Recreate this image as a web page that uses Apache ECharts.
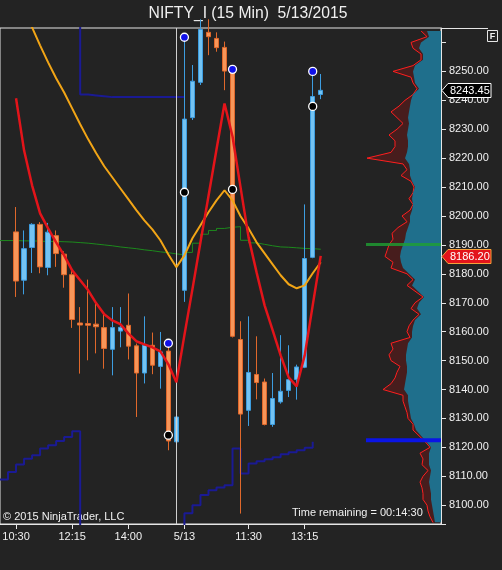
<!DOCTYPE html>
<html><head><meta charset="utf-8">
<script src="https://cdn.jsdelivr.net/npm/echarts@6.0.0/dist/echarts.min.js"></script>
<style>html,body{margin:0;padding:0;background:#232323;}#c{width:502px;height:570px;}</style>
</head><body><div id="c"></div>
<script>
// ---------- categories (15-minute bars) ----------
const categories = [
 '5/12 10:00','5/12 10:15','5/12 10:30','5/12 10:45','5/12 11:00','5/12 11:15','5/12 11:30','5/12 11:45','5/12 12:00','5/12 12:15','5/12 12:30','5/12 12:45','5/12 13:00','5/12 13:15','5/12 13:30','5/12 13:45','5/12 14:00','5/12 14:15','5/12 14:30','5/12 14:45','5/12 15:00','5/12 15:15','5/12 15:30',
 '5/13 09:30','5/13 09:45','5/13 10:00','5/13 10:15','5/13 10:30','5/13 10:45','5/13 11:00','5/13 11:15','5/13 11:30','5/13 11:45','5/13 12:00','5/13 12:15','5/13 12:30','5/13 12:45','5/13 13:00','5/13 13:15','5/13 13:30','5/13 13:45',
 '5/13 14:00','5/13 14:15','5/13 14:30','5/13 14:45','5/13 15:00','5/13 15:15','5/13 15:30',
 '5/14 09:30','5/14 09:45','5/14 10:00','5/14 10:15','5/14 10:30','5/14 10:45','5/14 11:00','5/14 11:15'];
const tickCategories = ['5/12 10:30','5/12 12:15','5/12 14:00','5/13 09:30','5/13 11:30','5/13 13:15'];
const tickLabels = ['10:30','12:15','14:00','5/13','11:30','13:15'];
const sessionBreak = '5/12 15:30';

// ---------- OHLC (5/12 10:30 .. 5/13 13:45) ----------
const barTimes = categories.slice(2, 41);
const open  = [8194.5,8177.8,8189.1,8197.1,8182.2,8193.2,8186.8,8179.7,8163.0,8162.8,8162.6,8161.4,8153.9,8160.2,8162.2,8155.1,8145.7,8155.3,8148.0,8153.3,8121.9,8174.3,8234.0,8246.2,8263.5,8261.4,8258.3,8249.9,8157.3,8132.8,8145.2,8142.6,8127.9,8135.7,8139.7,8143.5,8147.7,8185.7,8242.0];
const high  = [8203.1,8195.0,8197.5,8197.9,8197.6,8195.0,8187.8,8181.2,8168.5,8178.0,8170.3,8166.8,8168.5,8168.5,8173.2,8155.9,8165.3,8159.7,8159.9,8155.0,8142.5,8260.7,8252.2,8268.0,8268.0,8263.5,8260.3,8250.3,8163.6,8165.3,8158.4,8143.8,8145.7,8158.8,8155.3,8148.6,8204.0,8249.7,8249.1];
const low   = [8172.0,8172.9,8180.3,8180.2,8179.5,8182.4,8175.2,8161.3,8145.5,8150.1,8152.5,8147.2,8144.9,8154.6,8150.4,8130.5,8142.1,8145.3,8140.3,8119.0,8120.1,8170.3,8233.2,8245.3,8255.6,8256.8,8243.5,8158.0,8097.1,8127.4,8136.6,8127.6,8127.1,8135.1,8137.4,8136.5,8147.4,8185.4,8240.4];
const close = [8177.5,8188.7,8197.1,8182.4,8194.4,8187.0,8179.7,8164.2,8162.3,8162.2,8161.7,8154.2,8161.4,8161.5,8155.0,8145.7,8155.3,8148.4,8153.0,8122.2,8130.5,8233.5,8246.6,8264.5,8262.0,8258.2,8250.1,8158.4,8131.5,8145.9,8142.4,8127.9,8136.9,8139.4,8143.4,8147.8,8185.3,8241.3,8243.45];

// ---------- indicators ----------
const redLine = [8240.7,8222.7,8210.6,8200.9,8195.7,8190.9,8186.4,8181.2,8177.8,8174.3,8169.8,8166.0,8163.9,8162.6,8159.4,8156.7,8155.6,8154.6,8153.2,8148.7,8142.5,8158.8,8174.7,8190.9,8206.8,8223.0,8238.9,8227.5,8209.9,8192.6,8180.5,8169.1,8160.5,8151.8,8144.2,8141.1,8151.8,8169.1,8186.2];
const orangeLine = [8277.3,8271.1,8265.2,8259.0,8253.1,8247.6,8242.7,8237.2,8231.7,8226.5,8221.7,8217.2,8213.4,8209.6,8205.8,8202.0,8198.5,8195.4,8191.6,8186.7,8182.3,8186.4,8192.3,8196.8,8201.3,8205.4,8208.9,8205.4,8199.9,8195.7,8190.9,8187.1,8183.3,8179.5,8176.4,8175.0,8176.0,8180.2,8184.0];
// from 5/12 10:00
const greenStep = [8191.5,8191.5,8191.4,8191.4,8191.3,8191.2,8191.2,8191.1,8191.0,8190.8,8190.6,8190.3,8190.0,8189.7,8189.3,8189.0,8188.7,8188.3,8188.0,8187.6,8187.3,8186.9,8186.6,8187.4,8190.6,8193.7,8195.0,8195.7,8196.1,8196.3,8191.6,8190.7,8190.2,8189.7,8189.3,8189.2,8189.0,8188.8,8188.7,8188.5,8188.5];
// from 5/12 10:00 (7900 = off the chart)
const navyLower = [8108.9,8111.5,8114.1,8116.1,8117.3,8119.6,8120.7,8122.2,8123.6,8125.6,7900,7900,7900,7900,7900,7900,7900,7900,7900,7900,7900,7900,7900,8097.2,8100.0,8103.5,8105.2,8106.1,8106.9,8119.6,8111.0,8114.4,8115.2,8115.9,8116.6,8117.6,8118.3,8119.0,8119.9,8121.9];
// from 5/12 12:15 (8400 = off the chart)
const navyUpper = [8400,8242.0,8241.7,8241.4,8241.1,8241.1,8241.1,8241.1,8241.1,8241.1,8241.1,8241.1,8241.1,8241.1,8241.1];
const dotTimes = ['5/12 15:15','5/13 09:30','5/13 11:00','5/13 13:30'];
const highDots = [8156.0,8261.8,8250.7,8250.0];
const lowDots  = [8124.2,8208.2,8209.2,8237.9];

// ---------- volume profile (levels 8094..8264 step 2, relative widths) ----------
const profileLow = 8094, profileStep = 2;
const redProfile = [8,11,13,14,18,18,19,21,18,13, 19,18,21,11,16,22,28,28,33,34, 36,38,38,58,50,46,44,41,50,52, 48,50,31,34,32,28,22,30,26,18, 26,34,28,34,50,48,56,54,52,48, 49,43,34,39,31,28,32,28,27,30, 40,34,38,74,50,46,46,52,44,38, 44,50,42,36,28,24,28,30,48,28, 20,20,28,30,14,20];
const tealProfile = [6,7,8,9,10,10,11,12,11,10, 12,12,12,10,15,20,25,27,30,31, 32,33,33,37,36,35,34,34,35,35, 34,33,29,29,28,26,20,24,22,17, 23,29,26,32,38,40,41,40,38,36, 35,33,31,31,29,28,29,28,26,29, 31,31,32,36,34,33,33,34,33,32, 33,32,31,30,28,22,26,27,28,26, 18,18,22,20,12,14];
const pocPrice = 8190.1, lowLevelPrice = 8122.5, levelWidth = 75;
const lastPrice = 8243.45, redLast = 8186.20;

// ---------- layout ----------
const Y_MIN = 8093.5, Y_MAX = 8265;
const G = {left: 0, top: 28, width: 441, height: 496};
const profileLevels = redProfile.map((_, i) => String(profileLow + i * profileStep));
const profileTopPrice = profileLow + (redProfile.length - 1) * profileStep;
const pxPerPt = G.height / (Y_MAX - Y_MIN);
const G2 = {left: G.left, width: G.width,
  top: G.top + (Y_MAX - profileTopPrice) * pxPerPt,
  height: (profileTopPrice - profileLow) * pxPerPt};

const FONT = '"Liberation Sans", Arial, sans-serif';
const TXT = '#f0f0f0', LINE = '#e6e6e6';

const chart = echarts.init(document.getElementById('c'), null, {renderer: 'canvas'});
const option = {
  animation: false,
  backgroundColor: '#232323',
  grid: [
    Object.assign({show: true, borderColor: LINE, borderWidth: 1, backgroundColor: 'transparent', outerBoundsMode: 'none'}, G),
    Object.assign({show: false, outerBoundsMode: 'none'}, G2)
  ],
  xAxis: [
    {type: 'category', gridIndex: 0, data: categories, boundaryGap: false,
     axisLine: {show: true, lineStyle: {color: LINE}},
     axisTick: {show: true, length: 5, lineStyle: {color: LINE}, interval: (i, v) => tickCategories.includes(v)},
     axisLabel: {color: TXT, fontSize: 11, fontFamily: FONT, margin: 7, hideOverlap: false,
       interval: (i, v) => tickCategories.includes(v),
       formatter: v => { const j = tickCategories.indexOf(v); return j >= 0 ? tickLabels[j] : ''; }},
     splitLine: {show: false}},
    {type: 'value', gridIndex: 0, inverse: true, min: 0, max: G.width, show: false},
    {type: 'value', gridIndex: 1, inverse: true, min: 0, max: G.width, show: false}
  ],
  yAxis: [
    {type: 'value', gridIndex: 0, position: 'right', min: Y_MIN, max: Y_MAX, scale: true,
     splitNumber: 17, minInterval: 10, maxInterval: 10,
     axisLine: {show: true, lineStyle: {color: LINE}},
     axisTick: {show: true, length: 5, lineStyle: {color: LINE}},
     axisLabel: {color: TXT, fontSize: 11, fontFamily: FONT, margin: 8, hideOverlap: false,
       formatter: v => (Math.abs(v % 10) < 1e-6 && v !== 8260) ? v.toFixed(2) : ''},
     splitLine: {show: false}},
    {type: 'category', gridIndex: 1, data: profileLevels, boundaryGap: false, show: false}
  ],
  series: [
    {name: 'profileRed', type: 'line', xAxisIndex: 2, yAxisIndex: 1, data: redProfile,
     showSymbol: false, z: 1, lineStyle: {color: '#ff1f1f', width: 1},
     areaStyle: {color: 'rgba(140,20,20,0.5)'}},
    {name: 'profileTeal', type: 'line', xAxisIndex: 2, yAxisIndex: 1, data: tealProfile,
     showSymbol: false, z: 2, lineStyle: {width: 0, color: '#1f6f8c'},
     areaStyle: {color: '#1f6f8c', opacity: 1}},
    {name: 'poc', type: 'line', xAxisIndex: 1, yAxisIndex: 0, z: 3, showSymbol: false,
     data: [[levelWidth, pocPrice], [0, pocPrice]], lineStyle: {color: 'rgba(30,160,50,0.8)', width: 3}},
    {name: 'lowLevel', type: 'line', xAxisIndex: 1, yAxisIndex: 0, z: 3, showSymbol: false,
     data: [[levelWidth, lowLevelPrice], [0, lowLevelPrice]], lineStyle: {color: '#0a14e6', width: 4}},
    {name: 'green', type: 'line', step: 'end', z: 3, showSymbol: false,
     data: greenStep.map((v, i) => [categories[i], v]), lineStyle: {color: '#1d8a1d', width: 1},
     markLine: {silent: true, symbol: 'none', label: {show: false},
       lineStyle: {color: '#cfcfcf', width: 1, type: 'solid'}, data: [{xAxis: sessionBreak}]}},
    {name: 'navyLower', type: 'line', step: 'end', z: 3, showSymbol: false,
     data: navyLower.map((v, i) => [categories[i], v]), lineStyle: {color: '#1a1a94', width: 2}},
    {name: 'navyUpper', type: 'line', step: 'end', z: 3, showSymbol: false,
     data: navyUpper.map((v, i) => [categories[9 + i], v]), lineStyle: {color: '#1a1a94', width: 2}},
    {name: 'price', type: 'candlestick', z: 4, barWidth: 5,
     data: barTimes.map((t, i) => [t, open[i], close[i], low[i], high[i]]),
     encode: {x: 0, y: [1, 2, 3, 4]},
     itemStyle: {color: '#74c3f2', color0: '#f79659', borderColor: '#3d9de0', borderColor0: '#e0682b', borderWidth: 1}},
    {name: 'orange', type: 'line', z: 5, showSymbol: false,
     data: orangeLine.map((v, i) => [barTimes[i], v]), lineStyle: {color: '#f2a516', width: 2}},
    {name: 'red', type: 'line', z: 6, showSymbol: false,
     data: redLine.map((v, i) => [barTimes[i], v]), lineStyle: {color: '#e3141a', width: 2.5}},
    {name: 'highDots', type: 'scatter', z: 7, symbolSize: 8,
     data: highDots.map((v, i) => [dotTimes[i], v]),
     itemStyle: {color: '#1010e8', borderColor: '#ffffff', borderWidth: 1.3, opacity: 1}},
    {name: 'lowDots', type: 'scatter', z: 7, symbolSize: 8,
     data: lowDots.map((v, i) => [dotTimes[i], v]),
     itemStyle: {color: '#000000', borderColor: '#ffffff', borderWidth: 1.3, opacity: 1}}
  ]
};
chart.setOption(option);

function marker(value, text, fill, stroke, color) {
  const y = Math.round(chart.convertToPixel({yAxisIndex: 0}, value)) + 0.5;
  const x0 = G.left + G.width + 1;
  return [
    {type: 'polygon', z: 100, shape: {points: [[x0, y], [x0 + 6, y - 7], [x0 + 49, y - 7], [x0 + 49, y + 7], [x0 + 6, y + 7]]},
     style: {fill: fill, stroke: stroke, lineWidth: 1}},
    {type: 'text', z: 101, x: x0 + 8, y: y, style: {text: text, fill: color, font: '11px ' + FONT, verticalAlign: 'middle'}}
  ];
}

const graphics = [
  {type: 'text', x: 248, y: 14, style: {text: 'NIFTY_I (15 Min)  5/13/2015', fill: TXT, font: '15.7px ' + FONT, align: 'center', verticalAlign: 'middle'}},
  {type: 'line', shape: {x1: G.left + G.width, y1: G.top + 0.5, x2: 488, y2: G.top + 0.5}, style: {stroke: LINE, lineWidth: 1}},
  {type: 'rect', shape: {x: 487.5, y: 30.5, width: 10, height: 11}, style: {fill: '#232323', stroke: LINE, lineWidth: 1}},
  {type: 'text', x: 492.5, y: 36.5, style: {text: 'F', fill: TXT, font: 'bold 9px ' + FONT, align: 'center', verticalAlign: 'middle'}},
  {type: 'text', x: 3, y: 517, style: {text: '\u00A9 2015 NinjaTrader, LLC', fill: TXT, font: '11px ' + FONT, verticalAlign: 'middle'}},
  {type: 'text', x: 292, y: 513, style: {text: 'Time remaining = 00:14:30', fill: TXT, font: '11px ' + FONT, verticalAlign: 'middle'}}
].concat(marker(lastPrice, lastPrice.toFixed(2), '#000000', '#ffffff', '#ffffff'))
 .concat(marker(redLast, redLast.toFixed(2), '#e3141b', '#f5a13a', '#ffffff'));
chart.setOption({graphic: graphics});
</script></body></html>
